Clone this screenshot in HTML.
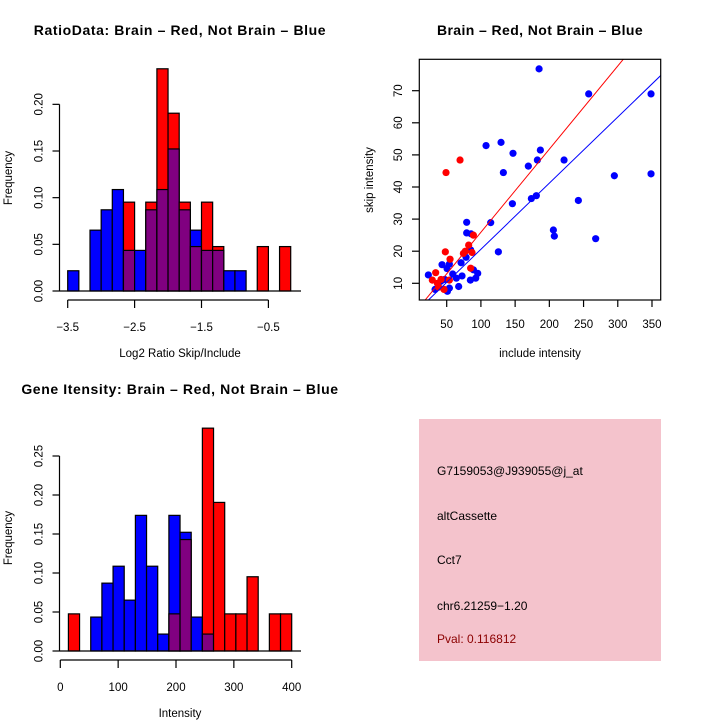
<!DOCTYPE html>
<html><head><meta charset="utf-8"><style>
body{margin:0;background:#fff}
svg{display:block;font-family:"Liberation Sans",Arial,sans-serif}
</style></head><body>
<svg id="s" width="720" height="720" xmlns="http://www.w3.org/2000/svg"></svg>
<script>
// Histogram 1: log2 ratio
const ratioBreakStart = -3.5, ratioBinWidth = 1/6;
const ratioBlue = [0.0217,0,0.0652,0.087,0.1087,0.0435,0.0435,0.087,0.1087,0.1522,0.087,0.0652,0.0435,0.0435,0.0217,0.0217,0,0,0,0];
const ratioRed  = [0,0,0,0,0,0.0952,0,0.0952,0.2381,0.1905,0.0952,0.0476,0.0952,0.0476,0,0,0,0.0476,0,0.0476];
const ratioXTicks = [-3.5,-2.5,-1.5,-0.5];
const ratioYTicks = [0,0.05,0.10,0.15,0.20];
// Histogram 2: intensity
const intBreakStart = 14, intBinWidth = 19.3;
const intBlue = [0,0,0.0435,0.087,0.1087,0.0652,0.1739,0.1087,0.0217,0.1739,0.1522,0.0435,0.0217,0,0,0,0,0,0,0];
const intRed  = [0.0476,0,0,0,0,0,0,0,0,0.0476,0.1429,0,0.2857,0.1905,0.0476,0.0476,0.0952,0,0.0476,0.0476];
const intXTicks = [0,100,200,300,400];
const intYTicks = [0,0.05,0.10,0.15,0.20,0.25];
// Scatter
const blueX = [185,257.5,348.6,107.5,129.4,146.9,186.9,182.5,221.5,169.3,132.8,348.6,295,181,173.7,242.4,146,205.9,207.3,267.7,114.3,79.2,79.2,85.6,125.5,85,78.3,71,43.2,53.9,50.5,89,23.2,58.8,95.3,72.4,64.1,47.1,41.2,84.6,92.4,33,53.9,67.5,51];
const blueY = [76.8,69,69,52.9,53.9,50.5,51.5,48.4,48.4,46.5,44.5,44.1,43.5,37.3,36.4,35.8,34.8,26.6,24.7,23.9,28.9,29,25.7,25.4,19.8,20.4,18.1,16.4,15.8,16,14.6,14.2,12.6,12.9,13.1,12.3,11.6,11.2,10.6,11,11.6,8.1,8.5,9,7.5];
const redX = [69.5,49,89,82.1,48,77.3,74.4,54.9,87,85,33.9,29,41.7,53.9,36.4,38.3,46.1];
const redY = [48.4,44.5,25,21.9,19.8,20,19.3,17.5,19.6,14.7,13.3,11,11.2,11,10,8.8,8.1];
const fitSlopes = [0.259,0.206];
const scXTicks = [50,100,150,200,250,300,350];
const scYTicks = [10,20,30,40,50,60,70];

const S = document.getElementById('s');
const NS = 'http://www.w3.org/2000/svg';
function mk(tag, attrs, parent, txt){
  const e = document.createElementNS(NS, tag);
  for (const k in attrs) e.setAttribute(k, attrs[k]);
  if (txt !== undefined) e.textContent = txt;
  (parent||S).appendChild(e);
  return e;
}
function text(x,y,t,size,opts){
  const o = Object.assign({x:x,y:y,'font-size':size,'text-anchor':'middle',fill:'#000'}, opts||{});
  return mk('text', o, null, t);
}

function histogram(name, title, titleY, xlab, ylab, bStart, bw, blue, red, xt, yt, xs, ys, axY, xAxisY, xAxisX0, xAxisX1, yAxisX, labY, xlabY){
  const g = mk('g', {});
  
  
  const t = text(180, titleY, title, 14, {'font-weight':'bold','letter-spacing':'0.6'});
  
  
  for (let i=0;i<blue.length;i++){
    const x0 = xs(bStart + i*bw), x1 = xs(bStart + (i+1)*bw);
    const b = blue[i], r = red[i];
    const hi = Math.max(b,r), lo = Math.min(b,r);
    if (hi > 0){
      const bar = mk('rect', {x:x0,y:ys(hi),width:x1-x0,height:ys(0)-ys(hi),fill:b>=r?'#0000ff':'#ff0000',stroke:'#000','stroke-width':1.2}, g);
      
      
    }
    if (lo > 0){
      const ov = mk('rect', {x:x0,y:ys(lo),width:x1-x0,height:ys(0)-ys(lo),fill:'#800080',stroke:'#000','stroke-width':1.2}, g);
      
      
    }
  }
  mk('line',{x1:yAxisX,x2:301,y1:ys(0),y2:ys(0),stroke:'#000','stroke-width':1.2},g);
  mk('line',{x1:yAxisX,x2:yAxisX,y1:ys(yt[0]),y2:ys(yt[yt.length-1]),stroke:'#000','stroke-width':1.2},g);
  yt.forEach(v=>{
    mk('line',{x1:yAxisX-7,x2:yAxisX,y1:ys(v),y2:ys(v),stroke:'#000','stroke-width':1.2},g);
    const l = mk('text',{x:0,y:0,'font-size':11.5,'text-anchor':'middle',transform:`translate(${yAxisX-17},${ys(v)}) rotate(-90)`},g,v.toFixed(2));
    
    
  });
  mk('line',{x1:xs(xt[0]),x2:xs(xt[xt.length-1]),y1:xAxisY,y2:xAxisY,stroke:'#000','stroke-width':1.2},g);
  xt.forEach(v=>{
    mk('line',{x1:xs(v),x2:xs(v),y1:xAxisY,y2:xAxisY+8,stroke:'#000','stroke-width':1.2},g);
    const l = mk('text',{x:xs(v),y:xAxisY+31,'font-size':11.5,'text-anchor':'middle'},g,String(v).replace('-','\u2212'));
    
    
  });
  const xl = mk('text',{x:180,y:xlabY,'font-size':11.5,'text-anchor':'middle'},g,xlab);
  
  
  const yl = mk('text',{x:0,y:0,'font-size':11.5,'text-anchor':'middle',transform:`translate(12,${labY}) rotate(-90)`},g,ylab);
  
  
}

const r_xs = v => 67.7 + (v + 3.5) * 66.9;
const r_ys = v => 291 - v * 933.3;
histogram('ratio-histogram','RatioData: Brain \u2013 Red, Not Brain \u2013 Blue',35,'Log2 Ratio Skip/Include','Frequency',
  ratioBreakStart, ratioBinWidth, ratioBlue, ratioRed, ratioXTicks, ratioYTicks, r_xs, r_ys, 0, 300, 0,0, 59.5, 178, 357);
const i_xs = v => 60.3 + v * 0.5785;
const i_ys = v => 651 - v * 780;
histogram('intensity-histogram','Gene Itensity: Brain \u2013 Red, Not Brain \u2013 Blue',394,'Intensity','Frequency',
  intBreakStart, intBinWidth, intBlue, intRed, intXTicks, intYTicks, i_xs, i_ys, 0, 660, 0,0, 59.5, 538, 717);

const sx = v => 446.7 + (v - 50) * 0.6843;
const sy = v => 283.3 - (v - 10) * 3.21;
const sg = mk('g',{});


const st = text(540,35,'Brain \u2013 Red, Not Brain \u2013 Blue',14,{'font-weight':'bold','letter-spacing':'0.4'});


mk('defs',{},sg).innerHTML = '<clipPath id="cp"><rect x="419.3" y="59.3" width="241.4" height="240.7"/></clipPath>';
const cg = mk('g',{'clip-path':'url(#cp)'},sg);
blueX.forEach((x,i)=>{
  const c = mk('circle',{cx:sx(x),cy:sy(blueY[i]),r:3.6,fill:'#0000ff'},cg);
  
  
});
redX.forEach((x,i)=>{
  const c = mk('circle',{cx:sx(x),cy:sy(redY[i]),r:3.6,fill:'#ff0000'},cg);
  
  
});
['#ff0000','#0000ff'].forEach((col,k)=>{
  const l = mk('line',{x1:sx(0),y1:sy(0),x2:sx(400),y2:sy(400*fitSlopes[k]),stroke:col,'stroke-width':1},cg);
  
  
});
mk('rect',{x:419.3,y:59.3,width:241.4,height:240.7,fill:'none',stroke:'#000','stroke-width':1.2},sg);
scXTicks.forEach(v=>{
  mk('line',{x1:sx(v),x2:sx(v),y1:300,y2:307,stroke:'#000','stroke-width':1.2},sg);
  const l = mk('text',{x:sx(v),y:328,'font-size':11.5,'text-anchor':'middle'},sg,String(v));
  
  
});
scYTicks.forEach(v=>{
  mk('line',{x1:412,x2:419.3,y1:sy(v),y2:sy(v),stroke:'#000','stroke-width':1.2},sg);
  const l = mk('text',{x:0,y:0,'font-size':11.5,'text-anchor':'middle',transform:`translate(402,${sy(v)}) rotate(-90)`},sg,String(v));
  
  
});
const sxl = mk('text',{x:540,y:357,'font-size':11.5,'text-anchor':'middle'},sg,'include intensity');


const syl = mk('text',{x:0,y:0,'font-size':11.5,'text-anchor':'middle',transform:'translate(373,180) rotate(-90)'},sg,'skip intensity');


</script>
<div style="position:absolute;left:419px;top:419px;width:242px;height:242px;background:#f4c3cc;font-family:'Liberation Sans',Arial,sans-serif;font-size:12px;">
  <div style="position:absolute;left:18px;top:45px">G7159053@J939055@j_at</div>
  <div style="position:absolute;left:18px;top:90px">altCassette</div>
  <div style="position:absolute;left:18px;top:134px">Cct7</div>
  <div style="position:absolute;left:18px;top:180px">chr6.21259−1.20</div>
  <div style="position:absolute;left:18px;top:213px;color:#8b0000">Pval: 0.116812</div>
</div>
</body></html>
